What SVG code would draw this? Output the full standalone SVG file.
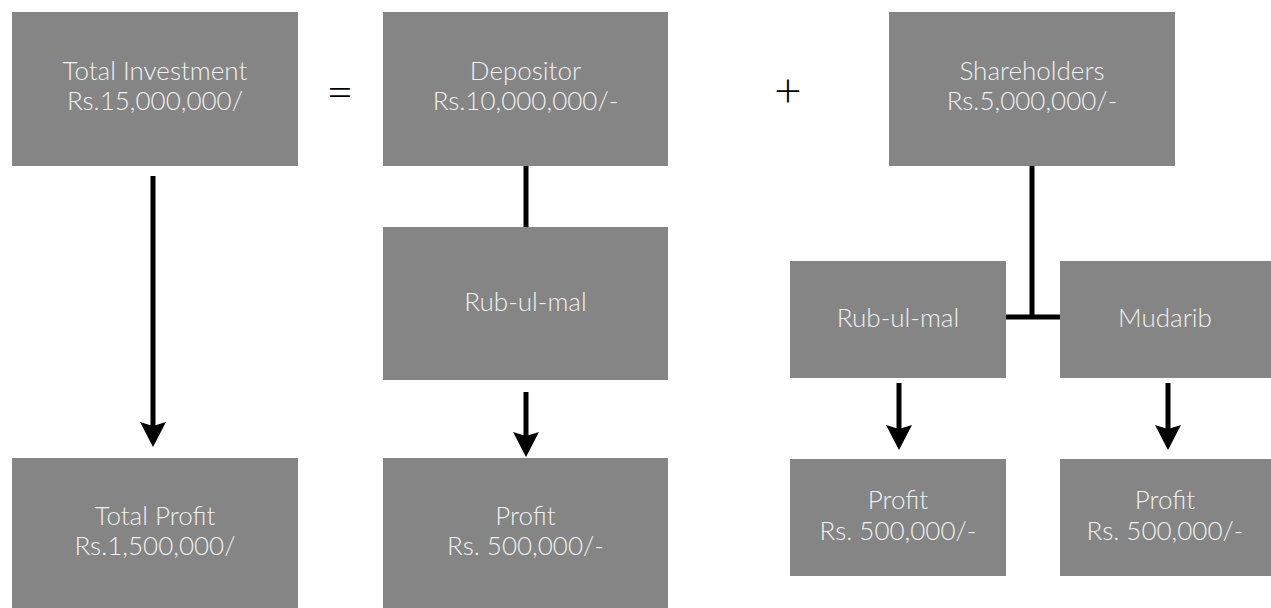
<svg xmlns="http://www.w3.org/2000/svg" width="1271" height="608" viewBox="0 0 1271 608">
<style>
.box{fill:#858585}
.t{font-family:Lato,"Open Sans",sans-serif;font-weight:300;font-size:26px;fill:#f0f0f0;text-anchor:middle}
.op{font-family:Lato,"DejaVu Sans",sans-serif;font-weight:300;font-size:48px;fill:#000;text-anchor:middle}
.ln{stroke:#000;stroke-width:5;fill:none}
</style>
<g id="connectors">
<line class="ln" x1="153" y1="176" x2="153" y2="426"/>
<line class="ln" x1="526" y1="165" x2="526" y2="229"/>
<line class="ln" x1="526" y1="392" x2="526" y2="436"/>
<line class="ln" x1="1032" y1="165" x2="1032" y2="319"/>
<line class="ln" x1="1006" y1="317" x2="1060" y2="317"/>
<line class="ln" x1="899" y1="383" x2="899" y2="429"/>
<line class="ln" x1="1168" y1="383" x2="1168" y2="429"/>
<path d="M140,422 L153,426 L166,422 L153,447 Z"/>
<path d="M513,432 L526,436 L539,432 L526,457 Z"/>
<path d="M886,425 L899,429 L912,425 L899,450 Z"/>
<path d="M1155,425 L1168,429 L1181,425 L1168,450 Z"/>
</g>
<g id="total-investment"><rect class="box" x="12" y="12" width="286" height="154"/><text class="t" x="155" y="80">Total Investment</text><text class="t" x="155" y="110">Rs.15,000,000/</text></g>
<g id="equals"><text class="op" x="340" y="108">=</text></g>
<g id="depositor"><rect class="box" x="383" y="12" width="285" height="154"/><text class="t" x="525.5" y="80">Depositor</text><text class="t" x="525.5" y="110">Rs.10,000,000/-</text></g>
<g id="plus"><text class="op" x="788" y="107">+</text></g>
<g id="shareholders"><rect class="box" x="889" y="12" width="286" height="154"/><text class="t" x="1032" y="80">Shareholders</text><text class="t" x="1032" y="110">Rs.5,000,000/-</text></g>
<g id="rub-ul-mal-1"><rect class="box" x="383" y="227" width="285" height="153"/><text class="t" x="525.5" y="311">Rub-ul-mal</text></g>
<g id="rub-ul-mal-2"><rect class="box" x="790" y="261" width="216" height="117"/><text class="t" x="898" y="327">Rub-ul-mal</text></g>
<g id="mudarib"><rect class="box" x="1060" y="261" width="211" height="117"/><text class="t" x="1165" y="327">Mudarib</text></g>
<g id="total-profit"><rect class="box" x="12" y="458" width="286" height="150"/><text class="t" x="155" y="525">Total Profit</text><text class="t" x="155" y="555">Rs.1,500,000/</text></g>
<g id="profit-1"><rect class="box" x="383" y="458" width="285" height="150"/><text class="t" x="525.5" y="525">Profit</text><text class="t" x="525.5" y="555">Rs. 500,000/-</text></g>
<g id="profit-2"><rect class="box" x="790" y="459" width="216" height="117"/><text class="t" x="898" y="509">Profit</text><text class="t" x="898" y="540">Rs. 500,000/-</text></g>
<g id="profit-3"><rect class="box" x="1060" y="459" width="211" height="117"/><text class="t" x="1165" y="509">Profit</text><text class="t" x="1165" y="540">Rs. 500,000/-</text></g>
</svg>
